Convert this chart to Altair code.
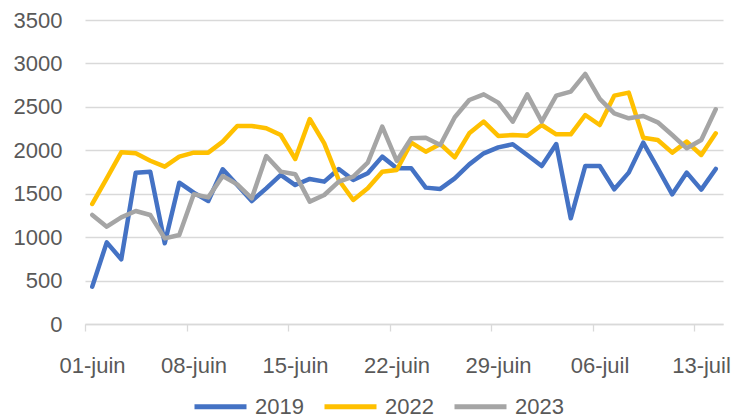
import altair as alt
import pandas as pd

tick_labels = ["01-juin", "08-juin", "15-juin", "22-juin", "29-juin", "06-juil", "13-juil"]
series_names = ["2019", "2022", "2023"]

v2019 = [430, 940, 745, 1742, 1754, 929, 1627, 1512, 1416, 1781,
         1600, 1416, 1562, 1716, 1600, 1670, 1639, 1785, 1658, 1735,
         1927, 1793, 1793, 1570, 1555, 1677, 1838, 1965, 2034, 2069,
         1946, 1819, 2072, 1217, 1819, 1819, 1551, 1743, 2088, 1793,
         1493, 1743, 1547, 1785]
v2022 = [1382, 1677, 1977, 1965, 1880, 1812, 1927, 1973, 1973, 2100,
         2280, 2280, 2253, 2176, 1900, 2360, 2080, 1658, 1428, 1562,
         1754, 1773, 2088, 1984, 2072, 1919, 2195, 2330, 2165, 2176,
         2168, 2291, 2184, 2184, 2406, 2291, 2629, 2664, 2145, 2119,
         1973, 2100, 1946, 2195]
v2023 = [1255, 1121, 1228, 1301, 1255, 986, 1025, 1493, 1458, 1704,
         1608, 1447, 1934, 1754, 1725, 1409, 1485, 1639, 1697, 1858,
         2272, 1877, 2138, 2145, 2061, 2380, 2579, 2644, 2549, 2330,
         2644, 2330, 2629, 2675, 2879, 2591, 2426, 2368, 2395, 2322,
         2176, 2023, 2119, 2472]

colors = ["#4472C4", "#FFC000", "#A5A5A5"]

rows = []
for name, vals in zip(series_names, [v2019, v2022, v2023]):
    for i, v in enumerate(vals):
        rows.append({"day": i + 0.5, "value": v, "series": name})
df = pd.DataFrame(rows)

label_arr = "[" + ",".join("'" + t + "'" for t in tick_labels) + "]"

font = "Liberation Sans"
text_color = "#595959"

chart = alt.Chart(df).mark_line(strokeWidth=4.5, strokeCap="round", strokeJoin="round").encode(
    x=alt.X("day:Q",
            scale=alt.Scale(domain=[0, 44], nice=False, zero=False),
            axis=alt.Axis(values=[0, 7, 14, 21, 28, 35, 42], grid=False,
                          labelExpr=label_arr + "[round(datum.value/7)]",
                          labelFlush=False, labelOverlap=False,
                          title=None, domainColor="#D9D9D9", domainWidth=1.3,
                          tickColor="#D9D9D9", tickWidth=1.3, tickSize=7,
                          labelOffset=7, labelPadding=24, labelFont=font,
                          labelFontSize=22, labelColor=text_color)),
    y=alt.Y("value:Q",
            scale=alt.Scale(domain=[0, 3500], nice=False),
            axis=alt.Axis(values=[0, 500, 1000, 1500, 2000, 2500, 3000, 3500],
                          format="d",
                          title=None, domain=False, ticks=False,
                          gridColor="#D9D9D9", gridWidth=1.3,
                          labelPadding=23, labelFont=font, labelFontSize=22,
                          labelColor=text_color)),
    color=alt.Color("series:N",
                    scale=alt.Scale(domain=series_names, range=colors),
                    legend=alt.Legend(orient="none", direction="horizontal",
                                      legendX=107, legendY=358, title=None,
                                      symbolType="stroke", symbolSize=2704,
                                      symbolStrokeWidth=5, labelFont=font,
                                      labelFontSize=22, labelColor=text_color,
                                      labelOffset=6, columnPadding=10)),
).properties(
    width=638, height=304,
    autosize=alt.AutoSizeParams(type="none"),
    padding={"left": 77, "top": 12, "right": 10, "bottom": 98},
).configure_view(stroke=None)

chart.save("out.html", embed_options={"renderer": "svg", "actions": False})
